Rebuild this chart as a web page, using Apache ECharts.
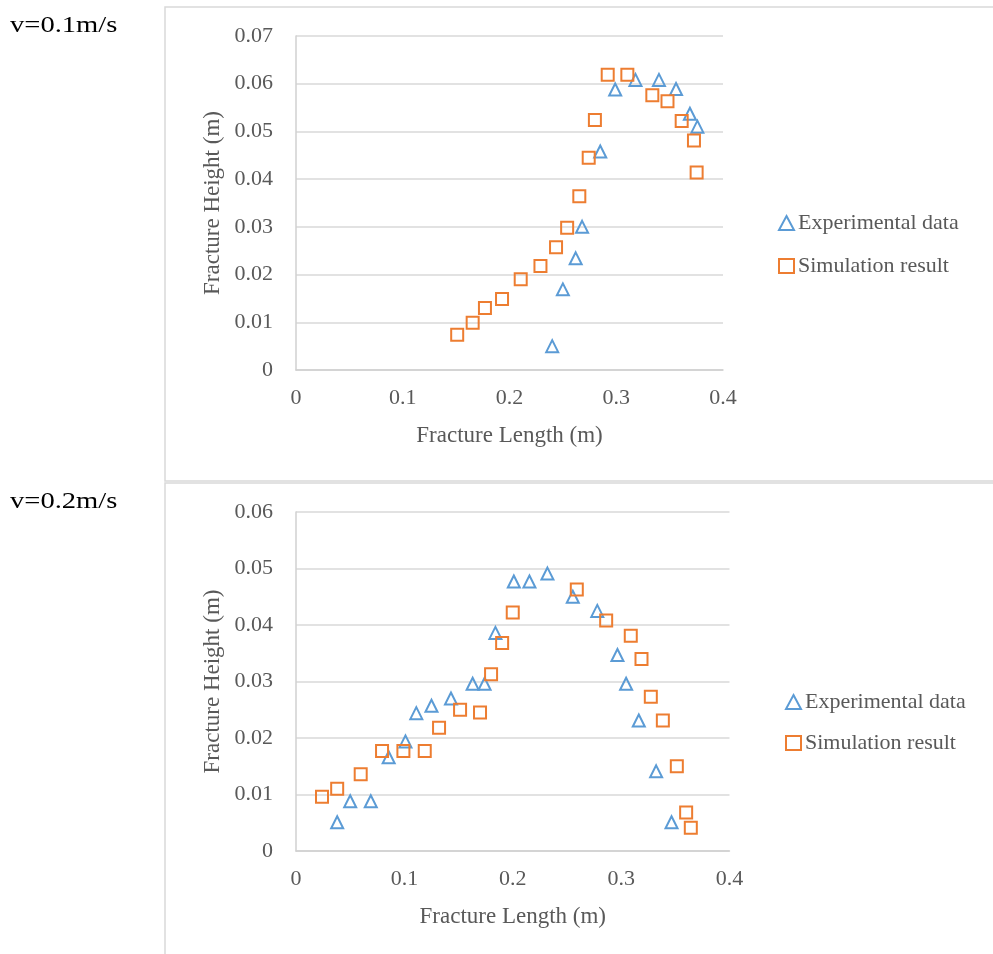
<!DOCTYPE html>
<html>
<head>
<meta charset="utf-8">
<script src="https://cdn.jsdelivr.net/npm/echarts@6/dist/echarts.min.js"></script>
<style>
html,body{margin:0;padding:0;background:#fff;}
#chart{width:993px;height:954px;}
</style>
</head>
<body>
<div id="chart"></div>
<script>
// ---- Data ----
const panelTitles = ['v=0.1m/s', 'v=0.2m/s'];
const seriesNames = ['Experimental data', 'Simulation result'];
const xAxisName = 'Fracture Length (m)';
const yAxisName = 'Fracture Height (m)';

const exp1X = [0.240, 0.250, 0.262, 0.268, 0.285, 0.299, 0.318, 0.340, 0.356, 0.369, 0.376];
const exp1Y = [0.0050, 0.0169, 0.0234, 0.0300, 0.0458, 0.0588, 0.0608, 0.0608, 0.0589, 0.0537, 0.0510];
const sim1X = [0.151, 0.1655, 0.177, 0.193, 0.2105, 0.229, 0.2436, 0.254, 0.2654, 0.2742, 0.280, 0.292, 0.3104, 0.3338, 0.348, 0.3613, 0.3728, 0.3753];
const sim1Y = [0.0074, 0.0099, 0.0130, 0.0149, 0.0190, 0.0218, 0.0257, 0.0298, 0.0364, 0.0445, 0.0524, 0.0619, 0.0619, 0.0576, 0.0563, 0.0522, 0.0481, 0.0414];

const exp2X = [0.038, 0.050, 0.069, 0.0855, 0.101, 0.111, 0.125, 0.143, 0.163, 0.174, 0.184, 0.201, 0.2154, 0.232, 0.2554, 0.278, 0.2966, 0.3046, 0.3163, 0.3323, 0.3465];
const exp2Y = [0.0051, 0.0088, 0.0088, 0.0166, 0.0194, 0.0244, 0.0257, 0.0270, 0.0296, 0.0296, 0.0386, 0.0477, 0.0477, 0.0491, 0.0450, 0.0425, 0.0347, 0.0296, 0.0231, 0.0141, 0.0051];
const sim2X = [0.024, 0.038, 0.0597, 0.0794, 0.0991, 0.1188, 0.132, 0.1514, 0.1698, 0.180, 0.1902, 0.200, 0.2591, 0.2862, 0.3089, 0.3188, 0.3274, 0.3385, 0.3514, 0.360, 0.3643];
const sim2Y = [0.0096, 0.0110, 0.0136, 0.0177, 0.0177, 0.0177, 0.0218, 0.0250, 0.0245, 0.0313, 0.0368, 0.0422, 0.0463, 0.0408, 0.0381, 0.0340, 0.0273, 0.0231, 0.0150, 0.0068, 0.0041];

const xTicks = { min: 0, max: 0.4, interval: 0.1 };
const yTicks1 = { min: 0, max: 0.07, interval: 0.01 };
const yTicks2 = { min: 0, max: 0.06, interval: 0.01 };

// ---- Styles ----
const BLUE = '#5b9bd5', ORANGE = '#ed7d31', TXT = '#595959', GRID = '#d9d9d9';
const FONT = '"Liberation Serif", "Times New Roman", serif';
const FS_TICK = 22, FS_NAME = 23, FS_LEG = 22;

function zip(xs, ys) { return xs.map((x, i) => [x, ys[i]]); }

function xAxisCfg(gi) {
  return {
    type: 'value', gridIndex: gi, min: xTicks.min, max: xTicks.max, interval: xTicks.interval,
    name: xAxisName, nameLocation: 'middle', nameGap: 54,
    nameTextStyle: { color: TXT, fontFamily: FONT, fontSize: FS_NAME },
    axisLine: { show: true, lineStyle: { color: '#d0d0d0', width: 1.5 } },
    axisTick: { show: false },
    splitLine: { show: false },
    axisLabel: { color: TXT, fontFamily: FONT, fontSize: FS_TICK, margin: 17 }
  };
}
function yAxisCfg(gi, t) {
  return {
    type: 'value', gridIndex: gi, min: t.min, max: t.max, interval: t.interval,
    name: yAxisName, nameLocation: 'middle', nameGap: 72,
    nameTextStyle: { color: TXT, fontFamily: FONT, fontSize: FS_NAME },
    axisLine: { show: true, lineStyle: { color: '#d0d0d0', width: 1.5 } },
    axisTick: { show: false },
    splitLine: { show: true, lineStyle: { color: GRID, width: 1.5 } },
    axisLabel: { color: TXT, fontFamily: FONT, fontSize: FS_TICK, margin: 23 }
  };
}
function sc(name, gi, data, sym, color) {
  return {
    type: 'scatter', name: name, xAxisIndex: gi, yAxisIndex: gi, data: data,
    symbol: sym, symbolSize: 12,
    itemStyle: { color: 'rgba(0,0,0,0)', borderColor: color, borderWidth: 2, opacity: 1 },
    emphasis: { disabled: true }, animation: false
  };
}
function legendCfg(top, left, gap) {
  return {
    orient: 'vertical', left: left, top: top, itemWidth: 15, itemHeight: 14, itemGap: gap,
    textStyle: { color: TXT, fontFamily: FONT, fontSize: FS_LEG, padding: [0, 0, 0, -1] },
    selectedMode: false,
    data: [
      { name: seriesNames[0], icon: 'triangle', itemStyle: { color: 'rgba(0,0,0,0)', borderColor: BLUE, borderWidth: 2 } },
      { name: seriesNames[1], icon: 'rect', itemStyle: { color: 'rgba(0,0,0,0)', borderColor: ORANGE, borderWidth: 2 } }
    ]
  };
}

const chart = echarts.init(document.getElementById('chart'), null, { renderer: 'canvas' });
chart.setOption({
  animation: false,
  backgroundColor: '#fff',
  graphic: [
    { type: 'rect', shape: { x: 165, y: 7, width: 900, height: 474 }, style: { fill: 'none', stroke: GRID, lineWidth: 1.5 }, silent: true },
    { type: 'rect', shape: { x: 165, y: 483, width: 900, height: 600 }, style: { fill: 'none', stroke: GRID, lineWidth: 1.5 }, silent: true },
    { type: 'text', x: 10, y: 14, scaleX: 1.19, style: { text: panelTitles[0], fill: '#000', font: '24px ' + FONT, textVerticalAlign: 'top' } },
    { type: 'text', x: 10, y: 490, scaleX: 1.19, style: { text: panelTitles[1], fill: '#000', font: '24px ' + FONT, textVerticalAlign: 'top' } }
  ],
  grid: [
    { left: 296, right: 270, top: 36, height: 334 },
    { left: 296, right: 263.5, top: 512, height: 339 }
  ],
  xAxis: [xAxisCfg(0), xAxisCfg(1)],
  yAxis: [yAxisCfg(0, yTicks1), yAxisCfg(1, yTicks2)],
  legend: [legendCfg(207, 773, 21), legendCfg(686, 780, 19)],
  series: [
    sc(seriesNames[0], 0, zip(exp1X, exp1Y), 'triangle', BLUE),
    sc(seriesNames[1], 0, zip(sim1X, sim1Y), 'rect', ORANGE),
    sc(seriesNames[0], 1, zip(exp2X, exp2Y), 'triangle', BLUE),
    sc(seriesNames[1], 1, zip(sim2X, sim2Y), 'rect', ORANGE)
  ]
});
</script>
</body>
</html>
